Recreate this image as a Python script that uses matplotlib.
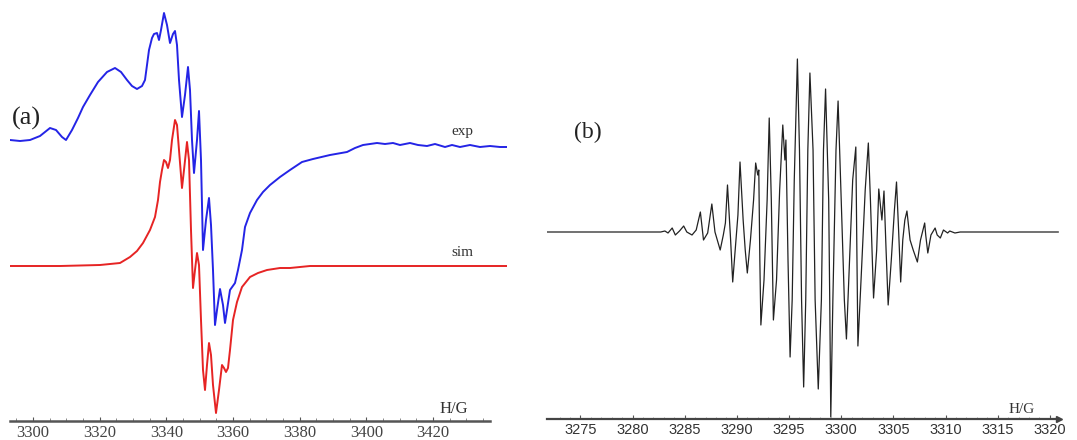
import matplotlib
matplotlib.use("Agg")
import matplotlib.pyplot as plt
import numpy as np

# ---- panel (a): experimental and simulated EPR spectra (field in G, intensity in a.u.)
exp_field = [3293.1, 3296.1, 3299.1, 3302.1, 3305.1, 3306.9, 3308.7, 3309.9, 3311.7, 3313.5,
             3315.0, 3317.1, 3319.5, 3322.2, 3324.6, 3326.4, 3328.2, 3329.7, 3331.2, 3332.7,
             3333.6, 3334.2, 3334.8, 3335.7, 3336.3, 3337.2, 3337.8, 3338.4, 3339.3, 3340.2,
             3341.1, 3342.0, 3342.6, 3343.2, 3343.8, 3344.7, 3345.6, 3346.5, 3347.1, 3347.7,
             3348.3, 3349.2, 3349.8, 3350.4, 3351.0, 3351.9, 3352.8, 3353.4, 3354.0, 3354.6,
             3355.2, 3356.1, 3357.0, 3357.6, 3358.2, 3359.1, 3360.6, 3361.5, 3362.7, 3363.6,
             3365.1, 3367.2, 3369.0, 3371.1, 3374.1, 3377.1, 3380.7, 3384.0, 3389.1, 3394.2,
             3396.6, 3399.0, 3401.1, 3403.2, 3405.6, 3408.0, 3410.1, 3413.1, 3415.5, 3418.2,
             3420.6, 3423.6, 3425.7, 3428.1, 3431.1, 3434.1, 3437.1, 3440.1, 3442.2]
exp_signal = [0, -1, 0, 4, 12, 10, 3, 0, 10, 22,
              33, 45, 58, 68, 72, 68, 60, 54, 51, 54,
              60, 75, 90, 102, 106, 107, 100, 110, 127, 115,
              97, 106, 109, 95, 60, 23, 45, 73, 50, 0,
              -33, 0, 29, -20, -110, -80, -58, -85, -130, -185,
              -170, -149, -165, -183, -170, -150, -143, -130, -110, -87,
              -73, -60, -52, -45, -37, -30, -22, -19, -15, -12,
              -8, -5, -4, -3, -4, -3, -5, -3, -5, -6,
              -4, -7, -5, -7, -5, -7, -6, -7, -7]

sim_field = [3293.1, 3308.1, 3320.1, 3326.1, 3329.1, 3331.2, 3333.0, 3335.1, 3336.6, 3337.5,
             3338.1, 3338.7, 3339.3, 3339.9, 3340.5, 3341.1, 3341.7, 3342.6, 3343.2, 3343.8,
             3344.7, 3345.3, 3346.2, 3346.8, 3347.4, 3348.0, 3348.6, 3349.2, 3349.8, 3350.4,
             3351.0, 3351.6, 3352.2, 3352.8, 3353.4, 3354.0, 3354.9, 3355.8, 3356.7, 3357.3,
             3357.9, 3358.5, 3359.1, 3360.0, 3361.2, 3362.7, 3365.1, 3367.5, 3370.2, 3374.1,
             3377.1, 3383.1, 3442.2]
sim_signal = [0, 0, 1, 3, 9, 15, 23, 36, 49, 66,
              84, 96, 106, 104, 98, 106, 126, 146, 141, 116,
              78, 96, 124, 106, 36, -22, -4, 13, 1, -54,
              -104, -124, -99, -77, -89, -119, -147, -124, -99, -102,
              -106, -102, -84, -54, -36, -21, -11, -7, -4, -2,
              -2, 0, 0]

a_ticks = [3300, 3320, 3340, 3360, 3380, 3400, 3420]

# ---- panel (b): resolved hyperfine spectrum
b_field = [3271.8, 3282.7, 3283.1, 3283.4, 3283.8, 3284.1, 3284.5, 3284.9, 3285.2, 3285.7,
           3286.1, 3286.5, 3286.8, 3287.2, 3287.6, 3287.9, 3288.4, 3288.7, 3288.9, 3289.1,
           3289.4, 3289.6, 3289.8, 3290.1, 3290.3, 3290.6, 3290.8, 3291.0, 3291.3, 3291.6,
           3291.8, 3292.0, 3292.1, 3292.2, 3292.3, 3292.6, 3292.9, 3293.1, 3293.3, 3293.5,
           3293.8, 3294.1, 3294.4, 3294.6, 3294.7, 3294.9, 3295.1, 3295.3, 3295.5, 3295.8,
           3296.0, 3296.2, 3296.4, 3296.6, 3296.8, 3297.0, 3297.3, 3297.5, 3297.8, 3298.1,
           3298.3, 3298.5, 3298.8, 3298.9, 3299.0, 3299.2, 3299.5, 3299.7, 3300.0, 3300.3,
           3300.5, 3300.8, 3301.1, 3301.4, 3301.5, 3301.6, 3301.9, 3302.3, 3302.6, 3302.8,
           3303.1, 3303.4, 3303.6, 3303.9, 3304.1, 3304.3, 3304.5, 3304.8, 3305.1, 3305.3,
           3305.5, 3305.7, 3305.9, 3306.1, 3306.3, 3306.6, 3306.9, 3307.3, 3307.6, 3308.0,
           3308.1, 3308.3, 3308.6, 3309.0, 3309.2, 3309.5, 3309.8, 3310.2, 3310.4, 3310.9,
           3311.4, 3320.8]
b_signal = [0, 0, 1, -1, 4, -3, 1, 6, 0, -3,
            2, 20, -8, -1, 28, 0, -18, -3, 9, 47,
            -8, -50, -23, 17, 70, 12, -18, -41, -8, 32,
            69, 57, 62, -28, -93, -48, 32, 114, 32, -88,
            -48, 42, 107, 72, 92, -28, -125, -68, 52, 173,
            82, -68, -155, -68, 82, 159, 82, -68, -157, -68,
            82, 143, 32, -68, -185, -68, 82, 131, 32, -68,
            -107, -28, 52, 85, -18, -114, -48, 42, 89, 32,
            -66, -18, 43, 12, 41, -18, -73, -28, 22, 50,
            2, -50, -8, 12, 21, -8, -18, -30, -8, 9,
            -3, -21, -3, 4, -3, -6, 2, -1, 1, -1,
            0, 0]

b_ticks = [3275, 3280, 3285, 3290, 3295, 3300, 3305, 3310, 3315, 3320]

W, H = 1077, 440
fig = plt.figure(figsize=(W / 100, H / 100), dpi=100)
fig.patch.set_facecolor("white")

serif = ["Liberation Serif", "DejaVu Serif"]
sans = ["Liberation Sans", "DejaVu Sans"]


def strip_axes(ax):
    for side in ("left", "right", "top"):
        ax.spines[side].set_visible(False)
    ax.set_yticks([])
    ax.patch.set_alpha(0)


# panel (a)
ax1 = fig.add_axes([10 / W, 1 - 421 / H, 497 / W, 421 / H])
strip_axes(ax1)
exp_offset, sim_offset = 281, 155
ax1.plot(exp_field, np.array(exp_signal) + exp_offset, color="#2424e6", lw=1.4)
ax1.plot(sim_field, np.array(sim_signal) + sim_offset, color="#e62424", lw=1.4)
ax1.set_xlim(3293.1, 3442.2)
ax1.set_ylim(0, 421)
ax1.spines["bottom"].set_bounds(3293.1, 3437.1)
ax1.spines["bottom"].set_color("#555555")
ax1.spines["bottom"].set_linewidth(1.8)
ax1.set_xticks(a_ticks)
ax1.set_xticks(np.arange(3295, 3436, 5), minor=True)
ax1.tick_params(axis="x", direction="in", length=3, width=0.8, colors="#555555",
                labelcolor="#444444", labelsize=12, pad=3)
ax1.tick_params(axis="x", which="minor", direction="in", length=2, width=0.6, colors="#777777")
for lab in ax1.get_xticklabels():
    lab.set_family(serif)
ax1.text(3298.0, 303, "(a)", fontsize=19, family=serif, color="#222222", ha="center", va="center")
ax1.text(3428.7, 289, "exp", fontsize=11, family=serif, color="#333333", ha="center", va="center")
ax1.text(3428.7, 168, "sim", fontsize=11, family=serif, color="#333333", ha="center", va="center")
ax1.text(3426.3, 12, "H/G", fontsize=12, family=serif, color="#333333", ha="center", va="center")

# panel (b)
ax2 = fig.add_axes([547 / W, 1 - 419 / H, (W - 547) / W, 419 / H])
strip_axes(ax2)
ax2.plot(b_field, b_signal, color="#222222", lw=0.9)
ax2.set_xlim(3271.8, 3322.6)
ax2.set_ylim(-187, 232)
ax2.spines["bottom"].set_bounds(3271.8, 3320.6)
ax2.spines["bottom"].set_color("#444444")
ax2.spines["bottom"].set_linewidth(1.6)
ax2.plot([3320.9], [-187], marker=">", color="#444444", ms=5, clip_on=False)
ax2.set_xticks(b_ticks)
ax2.set_xticks(np.arange(3273, 3321, 1), minor=True)
ax2.tick_params(axis="x", direction="in", length=3, width=0.8, colors="#555555",
                labelcolor="#333333", labelsize=10.5, pad=3)
ax2.tick_params(axis="x", which="minor", direction="in", length=1.5, width=0.5, colors="#888888")
for lab in ax2.get_xticklabels():
    lab.set_family(sans)
ax2.text(3275.7, 100, "(b)", fontsize=17, family=serif, color="#222222", ha="center", va="center")
ax2.text(3317.3, -177, "H/G", fontsize=11, family=serif, color="#333333", ha="center", va="center")

fig.savefig("out.png", dpi=100, facecolor="white")
